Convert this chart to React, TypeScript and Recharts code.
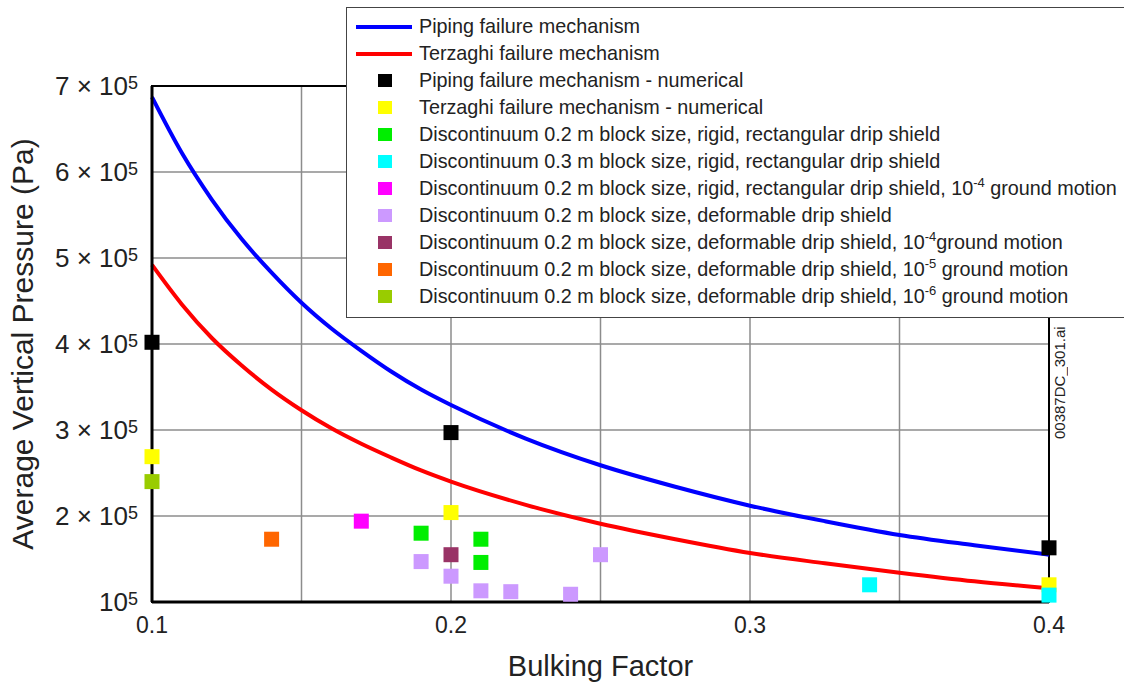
import {
  CartesianGrid,
  ComposedChart,
  Legend,
  Line,
  ReferenceArea,
  Scatter,
  XAxis,
  YAxis,
} from 'recharts';

// analytical curves, values in units of 1e5 Pa
const curveX = [
  0.1, 0.11, 0.12, 0.13, 0.14, 0.15, 0.16, 0.17, 0.18, 0.19, 0.2, 0.225, 0.25,
  0.275, 0.3, 0.325, 0.35, 0.375, 0.4,
];
const pipingCurve = [
  6.87, 6.22, 5.68, 5.22, 4.83, 4.48, 4.18, 3.92, 3.68, 3.47, 3.29, 2.9, 2.59,
  2.34, 2.12, 1.94, 1.78, 1.66, 1.55,
];
const terzaghiCurve = [
  4.92, 4.46, 4.07, 3.75, 3.47, 3.23, 3.02, 2.84, 2.68, 2.53, 2.4, 2.13, 1.91,
  1.73, 1.57, 1.45, 1.34, 1.24, 1.16,
];

// numerical results [bulking factor, pressure in 1e5 Pa]
const pipingNumerical = [
  [0.1, 4.02],
  [0.2, 2.97],
  [0.4, 1.63],
];
const terzaghiNumerical = [
  [0.1, 2.69],
  [0.2, 2.04],
  [0.4, 1.2],
];
const rigid02 = [
  [0.19, 1.8],
  [0.21, 1.73],
  [0.21, 1.46],
];
const rigid03 = [
  [0.34, 1.2],
  [0.4, 1.08],
];
const rigid02Ground4 = [[0.17, 1.94]];
const deformable02 = [
  [0.19, 1.47],
  [0.2, 1.3],
  [0.21, 1.13],
  [0.22, 1.12],
  [0.24, 1.09],
  [0.25, 1.55],
];
const deformableGround4 = [[0.2, 1.55]];
const deformableGround5 = [[0.14, 1.73]];
const deformableGround6 = [[0.1, 2.4]];

const xTicks = [0.1, 0.15, 0.2, 0.25, 0.3, 0.35, 0.4];
const xLabels = [0.1, 0.2, 0.3, 0.4];
const yTicks = [1, 2, 3, 4, 5, 6, 7];

const toCurve = (ys: number[]) => curveX.map((x, i) => ({ x, y: ys[i] * 1e5 }));
const toPoints = (pts: number[][]) => pts.map(([x, y]) => ({ x, y: y * 1e5 }));

const sup = (txt: string, exp: string, after: string) => (
  <>
    {txt}
    <sup style={{ fontSize: 13, verticalAlign: 8, lineHeight: 0 }}>{exp}</sup>
    {after}
  </>
);

const series = [
  { name: 'Piping failure mechanism - numerical', color: '#000000', data: pipingNumerical },
  { name: 'Terzaghi failure mechanism - numerical', color: '#ffff00', data: terzaghiNumerical },
  { name: 'Discontinuum 0.2 m block size, rigid, rectangular drip shield', color: '#00ee00', data: rigid02 },
  { name: 'Discontinuum 0.3 m block size, rigid, rectangular drip shield', color: '#00ffff', data: rigid03 },
  { name: 'Discontinuum 0.2 m block size, rigid, rectangular drip shield, 10-4 ground motion', color: '#ff00ff', data: rigid02Ground4 },
  { name: 'Discontinuum 0.2 m block size, deformable drip shield', color: '#cc99ff', data: deformable02 },
  { name: 'Discontinuum 0.2 m block size, deformable drip shield, 10-4ground motion', color: '#993366', data: deformableGround4 },
  { name: 'Discontinuum 0.2 m block size, deformable drip shield, 10-5 ground motion', color: '#ff6600', data: deformableGround5 },
  { name: 'Discontinuum 0.2 m block size, deformable drip shield, 10-6 ground motion', color: '#99cc00', data: deformableGround6 },
];

const legendItems = [
  { kind: 'line', color: '#0000ff', label: 'Piping failure mechanism' },
  { kind: 'line', color: '#ff0000', label: 'Terzaghi failure mechanism' },
  { kind: 'square', color: '#000000', label: 'Piping failure mechanism - numerical' },
  { kind: 'square', color: '#ffff00', label: 'Terzaghi failure mechanism - numerical' },
  { kind: 'square', color: '#00ee00', label: 'Discontinuum 0.2 m block size, rigid, rectangular drip shield' },
  { kind: 'square', color: '#00ffff', label: 'Discontinuum 0.3 m block size, rigid, rectangular drip shield' },
  { kind: 'square', color: '#ff00ff', label: sup('Discontinuum 0.2 m block size, rigid, rectangular drip shield, 10', '-4', ' ground motion') },
  { kind: 'square', color: '#cc99ff', label: 'Discontinuum 0.2 m block size, deformable drip shield' },
  { kind: 'square', color: '#993366', label: sup('Discontinuum 0.2 m block size, deformable drip shield, 10', '-4', 'ground motion') },
  { kind: 'square', color: '#ff6600', label: sup('Discontinuum 0.2 m block size, deformable drip shield, 10', '-5', ' ground motion') },
  { kind: 'square', color: '#99cc00', label: sup('Discontinuum 0.2 m block size, deformable drip shield, 10', '-6', ' ground motion') },
];

const FONT = "'Liberation Sans', Arial, sans-serif";

const SquareShape = (props: any) => {
  const { cx, cy, fill } = props;
  return <rect x={cx - 7.5} y={cy - 7.5} width={15} height={15} fill={fill} />;
};

const YTick = (props: any) => {
  const { x, y, payload } = props;
  const m = Math.round(payload.value / 1e5);
  return (
    <text x={x - 14} y={y + 9} textAnchor='end' fontSize={26} fill='#222' fontFamily={FONT}>
      {m === 1 ? '10' : `${m} × 10`}
      <tspan dy={-6} fontSize={18}>5</tspan>
    </text>
  );
};

const XTick = (props: any) => {
  const { x, y, payload } = props;
  const show = xLabels.some((v) => Math.abs(v - payload.value) < 1e-6);
  if (!show) return null;
  return (
    <text x={x} y={y + 31} textAnchor='middle' fontSize={23} fill='#222' fontFamily={FONT}>
      {payload.value.toFixed(1)}
    </text>
  );
};

const LegendBox = () => (
  <div
    style={{
      background: '#fff',
      border: '1px solid #444',
      borderRight: 'none',
      boxSizing: 'border-box',
      width: 778,
      height: 311,
      paddingTop: 5,
      fontFamily: FONT,
      fontSize: 19.8,
      color: '#222',
    }}
  >
    {legendItems.map((item, i) => (
      <div key={i} style={{ height: 27, display: 'flex', alignItems: 'center' }}>
        <div style={{ width: 72, height: 27, position: 'relative', flexShrink: 0 }}>
          {item.kind === 'line' ? (
            <div style={{ position: 'absolute', left: 9, top: 12, width: 56, height: 3.5, background: item.color }} />
          ) : (
            <div style={{ position: 'absolute', left: 31, top: 7, width: 14, height: 13, background: item.color }} />
          )}
        </div>
        <span style={{ whiteSpace: 'nowrap' }}>{item.label}</span>
      </div>
    ))}
  </div>
);

export default function App() {
  return (
    <div style={{ position: 'absolute', left: 0, top: 0, width: 1124, height: 683, overflow: 'hidden', background: '#fff' }}>
      <ComposedChart
        width={1124}
        height={683}
        margin={{ top: 86, right: 75, bottom: 31, left: 12 }}
      >
        <CartesianGrid stroke='#8c8c8c' strokeWidth={1.5} />
        <ReferenceArea x1={0.1} x2={0.4} y1={1e5} y2={7e5} fill='none' stroke='#000' strokeWidth={2} />
        <XAxis
          type='number'
          dataKey='x'
          domain={[0.1, 0.4]}
          ticks={xTicks}
          height={50}
          tickSize={0}
          tickMargin={0}
          tickLine={false}
          axisLine={{ stroke: '#000', strokeWidth: 3 }}
          tick={<XTick />}
          label={{
            content: (p: any) => {
              const vb = p.viewBox;
              return (
                <text x={vb.x + vb.width / 2} y={vb.y + 74} textAnchor='middle' fontSize={29} fill='#222' fontFamily={FONT}>
                  Bulking Factor
                </text>
              );
            },
          }}
        />
        <YAxis
          type='number'
          dataKey='y'
          domain={[1e5, 7e5]}
          ticks={yTicks.map((v) => v * 1e5)}
          width={140}
          tickSize={0}
          tickMargin={0}
          tickLine={false}
          axisLine={{ stroke: '#000', strokeWidth: 3 }}
          tick={<YTick />}
          label={{
            content: (p: any) => {
              const vb = p.viewBox;
              const cx = 33;
              const cy = vb.y + vb.height / 2;
              return (
                <text x={cx} y={cy} transform={`rotate(-90 ${cx} ${cy})`} textAnchor='middle' fontSize={30} fill='#222' fontFamily={FONT}>
                  Average Vertical Pressure (Pa)
                </text>
              );
            },
          }}
        />
        <Line
          data={toCurve(pipingCurve)}
          dataKey='y'
          type='monotone'
          stroke='#0000ff'
          strokeWidth={4}
          dot={false}
          isAnimationActive={false}
          name='Piping failure mechanism'
        />
        <Line
          data={toCurve(terzaghiCurve)}
          dataKey='y'
          type='monotone'
          stroke='#ff0000'
          strokeWidth={4}
          dot={false}
          isAnimationActive={false}
          name='Terzaghi failure mechanism'
        />
        {series.map((s) => (
          <Scatter
            key={s.name}
            name={s.name}
            data={toPoints(s.data)}
            fill={s.color}
            shape={<SquareShape />}
            isAnimationActive={false}
          />
        ))}
        <Legend
          layout='vertical'
          align='center'
          verticalAlign='middle'
          content={<LegendBox />}
          wrapperStyle={{ left: 346, top: 7, width: 778, height: 311 }}
        />
      </ComposedChart>
      <div
        style={{
          position: 'absolute',
          left: 1052,
          top: 328,
          height: 111,
          writingMode: 'vertical-rl',
          transform: 'rotate(180deg)',
          fontFamily: FONT,
          fontSize: 15,
          lineHeight: '16px',
          color: '#222',
        }}
      >
        00387DC_301.ai
      </div>
    </div>
  );
}
